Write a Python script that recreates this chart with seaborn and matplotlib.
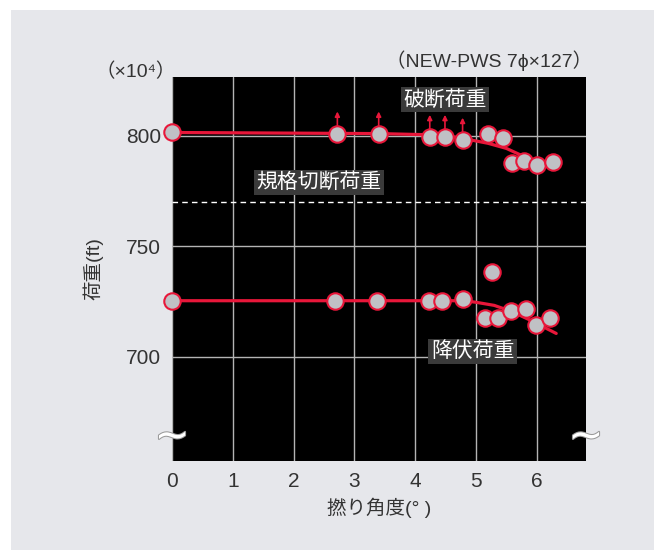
"""
Bruch- und Fliesslast von NEW-PWS 7phi x 127 ueber dem Verseilwinkel.
"""

import matplotlib.pyplot as plt
import matplotlib.patheffects as pe
import numpy as np
import pandas as pd
import seaborn as sns
from matplotlib.patches import Rectangle
from matplotlib.transforms import blended_transform_factory

break_x = [0.0, 2.72, 3.40, 4.24, 4.49, 4.78, 5.20, 5.45, 5.59, 5.79, 6.00, 6.26]
break_y = [801.5, 801.0, 801.0, 799.5, 799.5, 798.2, 800.6, 798.8, 787.6, 788.4, 786.7, 788.1]
break_arrow = [False, True, True, True, True, True, False, False, False, False, False, False]

yield_x = [0.0, 2.68, 3.38, 4.23, 4.44, 4.79, 5.26, 5.15, 5.36, 5.58, 5.83, 5.99, 6.22]
yield_y = [725.4, 725.4, 725.4, 725.4, 725.4, 726.0, 738.5, 717.4, 717.4, 720.6, 721.8, 714.5, 717.8]

# Ausgleichskurven
break_fit_x = [0.0, 3.4, 4.2, 4.6, 4.9, 5.2, 5.5, 5.8]
break_fit_y = [801.5, 801.0, 800.5, 799.6, 798.2, 796.6, 794.3, 790.5]
yield_fit_x = [0.0, 4.8, 5.0, 5.3, 5.6, 5.9, 6.32]
yield_fit_y = [725.4, 725.4, 724.7, 723.3, 720.4, 716.5, 710.6]

spec_load = 770
x_ticks = [0, 1, 2, 3, 4, 5, 6]
y_ticks = [700, 750, 800]

RED = "#e8173a"
GRAY = "#c0c1c5"
PANEL = "#e6e7eb"

sns.set_theme(style="dark")
plt.rcParams["font.family"] = ["Liberation Sans", "Noto Sans CJK JP", "DejaVu Sans"]

fig = plt.figure(figsize=(6.54, 5.50), dpi=100, facecolor="white")
fig.patches.append(Rectangle((11 / 654, 0), 1, 1 - 10 / 550, transform=fig.transFigure,
                             facecolor=PANEL, edgecolor="none", zorder=-10))
ax = fig.add_axes([172 / 654, 1 - 461 / 550, 414 / 654, 384 / 550])
ax.set_zorder(2)
ax.set_facecolor("black")

df_bf = pd.DataFrame({"x": break_fit_x, "y": break_fit_y})
df_yf = pd.DataFrame({"x": yield_fit_x, "y": yield_fit_y})
sns.lineplot(data=df_bf, x="x", y="y", ax=ax, color=RED, linewidth=2.3, sort=False, zorder=3)
sns.lineplot(data=df_yf, x="x", y="y", ax=ax, color=RED, linewidth=2.3, sort=False, zorder=3)

df_b = pd.DataFrame({"x": break_x, "y": break_y})
df_y = pd.DataFrame({"x": yield_x, "y": yield_y})
for d in (df_b, df_y):
    sns.scatterplot(data=d, x="x", y="y", ax=ax, s=140, color=GRAY,
                    edgecolor=RED, linewidth=1.5, zorder=4, clip_on=False)

# Pfeile: Bruch nicht erreicht (Wert groesser)
for x, y, flag in zip(break_x, break_y, break_arrow):
    if flag:
        ax.annotate("", xy=(x, y + 10.0), xytext=(x, y + 3.3),
                    arrowprops=dict(arrowstyle="-|>", color=RED, lw=1.2,
                                    mutation_scale=7, shrinkA=0, shrinkB=0))

ax.axhline(spec_load, color="white", linestyle=(0, (4, 3)), linewidth=1.0, zorder=2)

box = dict(facecolor="#3a3a3a", edgecolor="none", pad=2.0)
ax.text(4.49, 816.3, "破断荷重", color="white", fontsize=15, ha="center", va="center", bbox=box, zorder=5)
ax.text(2.42, 779.0, "規格切断荷重", color="white", fontsize=15, ha="center", va="center", bbox=box, zorder=5)
ax.text(4.95, 702.4, "降伏荷重", color="white", fontsize=15, ha="center", va="center", bbox=box, zorder=5)

ax.set_xlim(0, 6.81)
ax.set_ylim(652.9, 826.6)
ax.set_xticks(x_ticks)
ax.set_yticks(y_ticks)
ax.grid(True, color="#b4b4b4", linewidth=1.0)
ax.tick_params(axis="both", labelsize=15, colors="#333333", length=0, pad=8)
for s in ax.spines.values():
    s.set_visible(False)
ax.set_xlabel("撚り角度(° )", fontsize=14, color="#333333", labelpad=5)
ax.set_ylabel("荷重(ft)", fontsize=14, color="#333333", labelpad=16)

# Achsenbruch-Zeichen
trans = blended_transform_factory(ax.transAxes, ax.transData)
for xa in (0, 1):
    ax.text(xa, 664, "~", transform=trans, fontsize=30, color="white", ha="center", va="center",
            clip_on=False, zorder=6, family="DejaVu Sans",
            path_effects=[pe.withStroke(linewidth=1.5, foreground="#9a9a9a")])

fig.text(136 / 654, 1 - 72 / 550, "（×10⁴）", fontsize=14, color="#333333", ha="center", va="center")
fig.text(592 / 654, 1 - 61 / 550, "（NEW-PWS 7ϕ×127）", fontsize=14, color="#333333", ha="right", va="center")

fig.savefig("out.png", dpi=100, facecolor=fig.get_facecolor())
